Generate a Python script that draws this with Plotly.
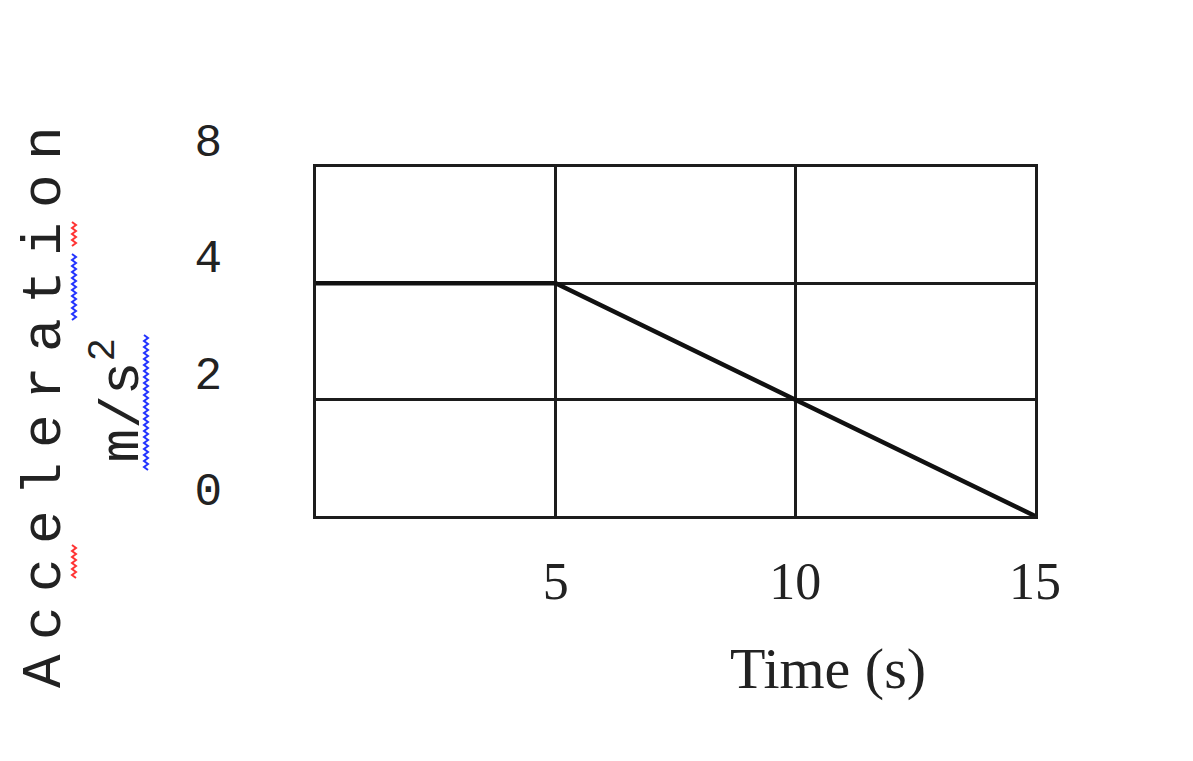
import plotly.graph_objects as go

# Data
time_s = [0, 5, 10, 15]
accel = ["4", "4", "2", "0"]
y_categories = ["0", "2", "4", "8"]
x_ticks = [5, 10, 15]
x_ticktext = ["5", "10", "15"]

MONO = "Courier New, Liberation Mono, monospace"
SERIF = "Times New Roman, Liberation Serif, serif"
INK = "#1c1c1c"

W, H = 1193, 761
ML, MR, MT, MB = 316, 158, 167, 245
PW, PH = W - ML - MR, H - MT - MB

fig = go.Figure()
fig.add_trace(go.Scatter(
    x=time_s, y=accel, mode="lines",
    line=dict(color="#111111", width=4.5),
    cliponaxis=False, showlegend=False, hoverinfo="skip",
))

fig.update_layout(
    width=W, height=H,
    margin=dict(l=ML, r=MR, t=MT, b=MB),
    paper_bgcolor="white", plot_bgcolor="white",
    showlegend=False,
)

fig.update_xaxes(
    range=[0, 15], tickvals=x_ticks, ticktext=x_ticktext,
    showgrid=True, gridcolor=INK, gridwidth=2.5,
    showline=True, linecolor=INK, linewidth=2.5, mirror=True,
    zeroline=False, ticks="",
    tickfont=dict(family=SERIF, size=52, color="#222222"),
    ticklabelstandoff=18,
)
fig.update_yaxes(
    type="category", categoryorder="array", categoryarray=y_categories,
    range=[0, 3],
    showgrid=True, gridcolor=INK, gridwidth=2.5,
    showline=True, linecolor=INK, linewidth=2.5, mirror=True,
    zeroline=False, ticks="",
    tickfont=dict(family=MONO, size=46, color="#222222"),
    ticklabelstandoff=82, ticklabelshift=-27,
)

gap = '<span style="font-size:24px"> </span>'
title_text = gap.join(list("Acceleration"))
fig.add_annotation(
    text=title_text, xref="paper", yref="paper",
    x=-0.377, y=0.312, xanchor="center", yanchor="middle",
    textangle=-90, showarrow=False,
    font=dict(family=MONO, size=56, color="#222222"),
)
fig.add_annotation(
    text="m/s<sup>2</sup>", xref="paper", yref="paper",
    x=-0.275, y=0.332, xanchor="center", yanchor="middle",
    textangle=-90, showarrow=False,
    font=dict(family=MONO, size=56, color="#222222"),
)
fig.add_annotation(
    text="Time (s)", xref="paper", yref="paper",
    x=0.712, y=-0.436, xanchor="center", yanchor="middle",
    showarrow=False,
    font=dict(family=SERIF, size=58, color="#222222"),
)


# spell-check squiggles (decorative, vertical wavy underlines)
def squiggle(px, py0, py1, color):
    pts = []
    step = 3
    y = py0
    i = 0
    while y <= py1:
        xx = px + (2 if i % 2 else -2)
        pts.append(((xx - ML) / PW, (H - MB - y) / PH))
        y += step
        i += 1
    path = "M " + " L ".join(f"{a:.5f},{b:.5f}" for a, b in pts)
    fig.add_shape(type="path", path=path, xref="paper", yref="paper",
                  line=dict(color=color, width=2))


squiggle(74, 545, 580, "#ff3333")
squiggle(74, 222, 246, "#ff3333")
squiggle(74, 254, 320, "#2233ff")
squiggle(146, 335, 470, "#2233ff")

fig.write_html("out.html")
